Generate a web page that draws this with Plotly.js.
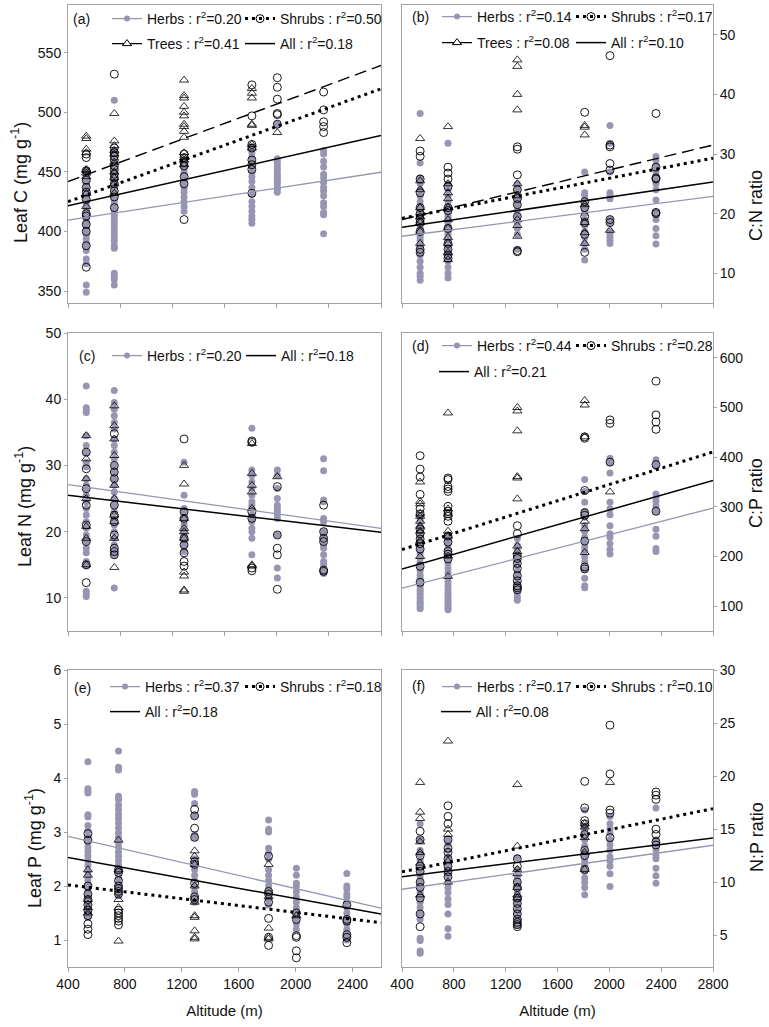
<!DOCTYPE html>
<html><head><meta charset="utf-8">
<script src="https://cdn.plot.ly/plotly-3.0.1.min.js"></script>
<style>html,body{margin:0;padding:0;background:#fff}#chart{width:769px;height:1027px}</style>
</head><body><div id="chart"></div>
<script>
// ---------------- DATA ----------------
const altitudes = [540, 755, 1290, 1810, 2005, 2360];

// (a) Leaf C (mg g-1)
const leafC_herbs = [
  [349, 355, 373, 377, 384, 388, 391, 394, 397, 399, 401, 403, 406, 408, 410, 412, 414, 417, 419, 421, 424, 426, 429, 431, 434, 437, 440, 443, 447, 451],
  [355, 360, 362, 365, 386, 388, 392, 395, 398, 401, 404, 407, 410, 413, 416, 419, 422, 425, 428, 431, 434, 437, 440, 443, 446, 449, 452, 456, 460, 464, 468, 510],
  [417, 421, 425, 429, 433, 436, 440, 443, 447, 450, 453, 456, 460],
  [407, 410, 413, 417, 421, 425, 431, 437, 442, 446, 450, 454, 458, 462, 466, 471],
  [433, 435, 437, 440, 442, 444, 446, 448, 451, 453, 456, 459, 461, 490],
  [398, 414, 416, 421, 424, 430, 434, 437, 441, 445, 448, 454, 459, 465, 468]
];
const leafC_shrubs = [
  [370, 388, 400, 406, 413, 415, 427, 433, 437, 443, 451, 462, 465],
  [420, 429, 434, 440, 445, 448, 452, 455, 460, 463, 466, 470, 532],
  [410, 440, 446, 455, 458, 462, 465],
  [432, 452, 456, 460, 470, 473, 497, 523],
  [490, 498, 499, 511, 521, 529],
  [483, 488, 492, 502, 517]
];
const leafC_trees = [
  [421, 432, 446, 449, 451, 452, 466, 469, 478, 480],
  [432, 440, 445, 450, 458, 465, 468, 472, 476, 499],
  [456, 460, 462, 466, 479, 484, 488, 490, 497, 500, 505, 512, 514, 527],
  [470, 473, 489, 490, 512, 516, 520],
  [483],
  []
];
const leafC_fitHerbs = [409.6, 449.7];
const leafC_fitShrubs = [425, 519.7];
const leafC_fitTrees = [441.9, 539.3];
const leafC_fitAll = [421.6, 480.6];
const leafC_r2 = ['0.20', '0.50', '0.41', '0.18'];

// (b) C:N ratio
const cn_herbs = [
  [8.8, 9.5, 10, 11, 12, 13, 13.5, 14, 14.5, 15, 15.5, 16, 16.5, 17, 17.5, 18, 18.5, 19, 19.5, 20, 21, 22, 23, 24, 25, 26, 28.5, 36.8],
  [9.2, 10, 11, 12, 13, 14, 14.5, 15, 15.5, 16, 16.5, 17, 17.5, 18, 18.5, 19, 19.5, 20, 20.5, 21, 22, 23, 24, 25, 31.8],
  [14, 16.5, 17.5, 18.5, 19.5, 20.5, 21.5, 22, 22.5, 23, 23.5, 24, 25],
  [12.2, 14, 15, 16, 17, 18, 18.5, 19, 20, 20.5, 21, 22, 23, 23.5, 27],
  [15, 15.5, 16, 16.5, 17, 18.5, 19, 22.5, 23, 23.5, 27, 31.8, 34.8],
  [14.9, 16.3, 17.5, 19, 20, 22.3, 24, 25, 26, 27, 28, 29, 29.6]
];
const cn_shrubs = [
  [13.5, 14, 17, 18.5, 19, 20, 21, 23.5, 25.8, 29.6, 30.5],
  [12.5, 13, 14, 15, 17.5, 20.5, 21, 24.5, 25.8, 26.8, 27.8],
  [13.6, 13.8, 19.5, 21.5, 22.5, 24, 26.5, 30.8, 31.2],
  [13.5, 16.5, 18.5, 19.5, 21, 22, 37],
  [18.5, 19, 27.3, 28.4, 31.2, 31.5, 46.5],
  [20, 20.2, 25.8, 26, 27.8, 36.8]
];
const cn_trees = [
  [15, 17, 18.5, 19.5, 21, 24, 25.5, 32.6],
  [12.3, 13.5, 15, 16, 17.6, 19, 21, 22.5, 23.5, 25, 34.6],
  [16.2, 18, 19, 23, 25, 37.4, 40, 44.7, 45.8],
  [15, 16.8, 18.5, 21.5, 33.2, 34.5, 34.8],
  [17.2],
  []
];
const cn_fitHerbs = [16.2, 22.9];
const cn_fitShrubs = [19.2, 29.3];
const cn_fitTrees = [19.0, 31.5];
const cn_fitAll = [17.7, 25.3];
const cn_r2 = ['0.14', '0.17', '0.08', '0.10'];

// (c) Leaf N (mg g-1)
const leafN_herbs = [
  [10.2, 10.5, 11, 14.8, 15.5, 16.8, 17.5, 18.5, 19.5, 20.5, 21.5, 22.5, 23.5, 24.5, 25.5, 26.5, 27, 28, 29.8, 30.5, 32, 33, 34.5, 38, 38.3, 38.7, 42],
  [11.5, 16.5, 17, 18, 19, 20, 21, 22, 23, 24, 25, 26, 27, 28, 29, 30, 31, 32, 33, 34, 35.5, 36.5, 37.5, 38.5, 39.5, 41.3],
  [17, 18, 18.5, 19, 19.5, 20, 20.5, 21, 21.5, 22, 23, 23.5, 25.5, 30.5],
  [16.5, 19, 20, 20.5, 21.5, 22, 22.5, 23.5, 24, 24.5, 25.5, 26.5, 27.5, 28.5, 29.3, 35.6],
  [13, 14.5, 19.5, 22, 22.5, 23, 23.5, 24, 25, 26.5, 28.5, 29.3],
  [13.7, 14, 15, 15.5, 16.5, 17.5, 18, 19, 20, 21.5, 22, 24.5, 24.8, 29.2, 31]
];
const leafN_shrubs = [
  [12.3, 15, 18.5, 21, 24, 26.5, 29.5, 32],
  [16.5, 17, 17.5, 19.5, 21.5, 22.5, 24, 28, 29, 30, 34.8],
  [14.8, 15.5, 16.8, 18, 19, 22, 23, 34],
  [14.1, 14.5, 22, 23, 33.5, 33.7],
  [11.3, 16.5, 17.5, 19.5, 26.8],
  [14, 14.2, 18.5, 19, 20, 24]
];
const leafN_trees = [
  [15, 19, 20.8, 25, 28, 31, 34.5],
  [14.6, 19, 21.5, 22.5, 25, 27, 31.5, 34, 36, 39],
  [11, 11.2, 13.3, 13.9, 19, 20, 20.5, 22, 27.2, 30],
  [14.8, 15, 23.5, 26, 27, 28.8, 33.3],
  [28.3],
  []
];
const leafN_fitHerbs = [27.1, 20.5];
const leafN_fitAll = [25.5, 19.9];
const leafN_r2 = ['0.20', '0.18'];

// (d) C:P ratio
const cp_herbs = [
  [95, 99, 104, 108, 113, 118, 124, 129, 133, 139, 144, 151, 156, 162, 171, 179, 188, 197, 206, 214, 223, 233, 242, 251, 262, 273, 281],
  [93, 97, 101, 106, 111, 117, 122, 127, 133, 141, 149, 158, 168, 177, 186, 196, 204, 213, 224, 233, 244],
  [112, 118, 126, 134, 146, 158, 169, 181, 190, 201, 212, 222, 236],
  [137, 141, 156, 174, 189, 199, 211, 219, 231, 239, 251, 262, 279, 291, 309, 331, 355],
  [205, 214, 226, 239, 246, 262, 284, 296, 309, 368, 389, 398],
  [210, 216, 241, 255, 291, 301, 311, 319, 326, 381, 386, 395]
];
const cp_shrubs = [
  [148, 180, 215, 226, 235, 246, 255, 286, 296, 325, 360, 376, 403],
  [195, 205, 211, 229, 241, 271, 281, 286, 291, 301, 331, 336, 341, 355, 358],
  [133, 137, 141, 151, 161, 176, 186, 196, 201, 246, 262],
  [175, 179, 231, 283, 288, 333, 438, 441],
  [390, 468, 475],
  [291, 385, 456, 471, 485, 553]
];
const cp_trees = [
  [200, 231, 251, 261, 271, 281, 286, 306, 311, 350],
  [160, 201, 241, 251, 286, 296, 489],
  [210, 221, 316, 358, 361, 453, 493, 500],
  [208, 256, 271, 441, 505, 514],
  [330],
  []
];
const cp_fitHerbs = [136.3, 297.6];
const cp_fitShrubs = [214, 410.5];
const cp_fitAll = [175, 353];
const cp_r2 = ['0.44', '0.28', '0.21'];

// (e) Leaf P (mg g-1)
const leafP_herbs = [
  [1.42, 1.51, 1.58, 1.67, 1.76, 1.84, 1.93, 2.02, 2.11, 2.19, 2.27, 2.38, 2.47, 2.56, 2.64, 2.72, 2.83, 2.91, 3.02, 3.12, 3.28, 3.32, 3.72, 3.76, 3.8, 4.3],
  [1.82, 1.9, 1.98, 2.06, 2.14, 2.22, 2.3, 2.39, 2.47, 2.55, 2.63, 2.72, 2.81, 2.9, 2.98, 3.07, 3.16, 3.25, 3.33, 3.42, 3.5, 3.6, 3.66, 4.15, 4.2, 4.5],
  [1.7, 1.8, 1.9, 2.0, 2.1, 2.2, 2.3, 2.4, 2.45, 2.5, 2.9, 2.95, 3.3, 3.53, 3.7, 3.75],
  [1.65, 1.75, 1.81, 1.9, 2.0, 2.1, 2.2, 2.3, 2.5, 2.6, 2.7, 3.0, 3.05, 3.22],
  [1.2, 1.3, 1.4, 1.5, 1.6, 1.7, 1.8, 1.9, 2.0, 2.05, 2.2, 2.33],
  [1.0, 1.1, 1.2, 1.3, 1.4, 1.5, 1.6, 1.7, 1.8, 1.85, 1.95, 2.0, 2.23]
];
const leafP_shrubs = [
  [1.1, 1.2, 1.3, 1.45, 1.55, 1.65, 1.75, 1.85, 2.0, 2.85, 2.97],
  [1.28, 1.35, 1.4, 1.45, 1.5, 1.55, 1.85, 1.9, 1.95, 2.0, 2.1, 2.25, 2.3],
  [1.75, 1.8, 2.05, 2.4, 2.45, 2.9, 3.07, 3.3, 3.42],
  [0.9, 1.05, 1.4, 1.7, 1.85, 1.9, 2.55],
  [0.67, 0.8, 1.05, 1.08, 1.38, 1.5],
  [0.95, 1.05, 1.1, 1.35, 1.38, 1.65]
];
const leafP_trees = [
  [1.5, 1.6, 1.75, 2.2, 2.3],
  [0.98, 1.6, 1.75, 2.3, 2.85],
  [1.02, 1.05, 1.17, 1.42, 1.45, 1.7, 2.0, 2.4, 2.55, 2.65],
  [1.02, 1.05, 1.22, 1.8, 2.4],
  [1.45],
  []
];
const leafP_fitHerbs = [2.92, 1.59];
const leafP_fitShrubs = [2.02, 1.32];
const leafP_fitAll = [2.53, 1.48];
const leafP_r2 = ['0.37', '0.18', '0.18'];

// (f) N:P ratio
const np_herbs = [
  [3.3, 3.5, 4.5, 4.7, 6.5, 7, 7.6, 8.1, 8.5, 9, 9.4, 10, 10.5, 11, 11.4, 12, 12.6, 13, 14, 15.5],
  [4.9, 5.6, 7, 7.9, 8.4, 9, 9.5, 10, 10.6, 11, 11.5, 12, 12.4, 13, 13.6, 14],
  [5.9, 6.0, 6.2, 6.5, 7, 7.4, 8, 8.5, 9, 9.6, 10, 10.5, 11.2, 12.3],
  [8.8, 9.5, 10, 10.4, 11, 11.6, 12, 12.5, 13, 13.4, 14, 14.6, 15, 15.3, 16.8],
  [9.6, 10.8, 11.5, 12, 12.4, 13, 13.5, 14, 14.6, 15, 15.5, 16.2],
  [9.9, 10.6, 11.3, 12.2, 12.5, 13, 13.5, 14, 17]
];
const np_shrubs = [
  [5.8, 7, 8.5, 9.5, 10, 11, 11.5, 12.5, 14, 14.8],
  [10.5, 11, 11.5, 12.2, 12.8, 13.2, 14, 15.5, 16.2, 17.2],
  [5.8, 6, 6.2, 6.5, 7, 7.5, 8, 8.5, 9.5, 10, 11.5, 12.2],
  [11.2, 12.5, 13, 14.5, 15.5, 15.8, 17, 19.5],
  [14.2, 16.5, 16.8, 20.2, 24.8],
  [13.5, 13.8, 14.5, 15, 17.8, 18.2, 18.5]
];
const np_trees = [
  [8.8, 11.8, 12.8, 13.8, 16, 16.6, 19.4],
  [10, 12, 14.5, 15, 23.3],
  [8.5, 8.8, 9.5, 10.8, 11.2, 13.4, 19.2],
  [11.2, 12.8, 14.2, 15.2, 15.5],
  [19.4],
  []
];
const np_fitHerbs = [9.33, 13.48];
const np_fitShrubs = [10.97, 16.93];
const np_fitAll = [10.5, 14.17];
const np_r2 = ['0.17', '0.10', '0.08'];

const fitX = [400, 2800];
const fitX_e = [400, 2600];

// ---------------- STYLE / LAYOUT ----------------
const W = 769, H = 1027;
const FONT = "Arial, 'Liberation Sans', sans-serif";
const HERB = '#9696b2';
const FRAME = '#a3a3a3';
const TXT = '#111';
const px = v => v / W;
const py = v => 1 - v / H;

function toXY(groups) {
  const x = [], y = [];
  groups.forEach((g, i) => g.forEach(v => { x.push(altitudes[i]); y.push(v); }));
  return {x, y};
}

const traces = [];
const layout = {
  width: W, height: H,
  margin: {l: 0, r: 0, t: 0, b: 0},
  paper_bgcolor: '#fff', plot_bgcolor: '#fff',
  showlegend: true, hovermode: false,
  font: {family: FONT, size: 14, color: TXT},
  annotations: []
};

const fitStyles = {
  herbs: {mode: 'lines+markers', line: {color: HERB, width: 1.3},
          marker: {symbol: 'circle', size: 6, color: HERB}},
  shrubs: {mode: 'lines+markers', line: {color: '#000', width: 3, dash: '3px,4px'},
           marker: {symbol: 'circle-open', size: 8, color: '#000', line: {width: 1, color: '#000'}}},
  trees: {mode: 'lines+markers', line: {color: '#000', width: 1.4, dash: '12px,6px'},
          marker: {symbol: 'triangle-up-open', size: 8, color: '#000', line: {width: 1, color: '#000'}}},
  all: {mode: 'lines', line: {color: '#000', width: 1.5}}
};
const kindName = {herbs: 'Herbs', shrubs: 'Shrubs', trees: 'Trees', all: 'All'};

let legendCount = 0;
function addFit(xa, ya, kind, fx, fy, r2, L, yc) {
  legendCount++;
  const lid = legendCount === 1 ? 'legend' : 'legend' + legendCount;
  const st = fitStyles[kind];
  const t = Object.assign({
    type: 'scatter', x: fx, y: fy, xaxis: xa, yaxis: ya,
    name: kindName[kind] + ' : r<sup>2</sup>=' + r2,
    legend: lid, showlegend: true, hoverinfo: 'skip', cliponaxis: true
  }, JSON.parse(JSON.stringify(st)));
  if (st.mode.indexOf('markers') >= 0) {
    t.selectedpoints = [];
    t.unselected = {marker: {opacity: 0}};
  }
  traces.push(t);
  layout[lid] = {
    x: px(L), y: py(yc), xanchor: 'left', yanchor: 'middle',
    orientation: 'v', bgcolor: 'rgba(0,0,0,0)', borderwidth: 0,
    itemwidth: 30, tracegroupgap: 0, itemclick: false, itemdoubleclick: false,
    font: {family: FONT, size: 14, color: TXT}
  };
}

function addPoints(xa, ya, herbs, shrubs, trees) {
  const h = toXY(herbs), s = toXY(shrubs), t = toXY(trees);
  traces.push({type: 'scatter', mode: 'markers', x: h.x, y: h.y, xaxis: xa, yaxis: ya, showlegend: false,
    hoverinfo: 'skip', marker: {symbol: 'circle', size: 7, color: HERB}});
  traces.push({type: 'scatter', mode: 'markers', x: s.x, y: s.y, xaxis: xa, yaxis: ya, showlegend: false,
    hoverinfo: 'skip', marker: {symbol: 'circle-open', size: 8, color: '#000', line: {width: 0.9, color: '#000'}}});
  traces.push({type: 'scatter', mode: 'markers', x: t.x, y: t.y, xaxis: xa, yaxis: ya, showlegend: false,
    hoverinfo: 'skip', marker: {symbol: 'triangle-up-open', size: 8, color: '#000', line: {width: 0.8, color: '#000'}}});
}

const xL = [px(68), px(381)], xR = [px(402), px(713)];
const row1 = [py(303), py(5)], row2 = [py(631), py(333)], row3 = [py(967), py(670)];

function xaxis(domain, anchor, range, labels) {
  const a = {
    domain, anchor, range, tick0: 400, dtick: 400, ticks: 'outside', ticklen: 4, tickcolor: FRAME, tickwidth: 1,
    showline: true, mirror: true, linecolor: FRAME, linewidth: 1, showgrid: false, zeroline: false,
    showticklabels: labels, tickfont: {family: FONT, size: 14, color: TXT}, fixedrange: true
  };
  if (labels) a.title = {text: 'Altitude (m)', font: {family: FONT, size: 15, color: TXT}, standoff: 14};
  return a;
}
function yaxis(domain, anchor, range, tick0, dtick, side) {
  return {
    domain, anchor, range, tick0, dtick, side, ticks: 'outside', ticklen: 3, tickcolor: FRAME, tickwidth: 1,
    showline: true, mirror: true, linecolor: FRAME, linewidth: 1, showgrid: false, zeroline: false,
    tickfont: {family: FONT, size: 14, color: TXT}, fixedrange: true
  };
}

layout.xaxis = xaxis(xL, 'y', [400, 2800], false);
layout.yaxis = yaxis(row1, 'x', [340, 590], 350, 50, 'left');
layout.xaxis2 = xaxis(xR, 'y2', [400, 2800], false);
layout.yaxis2 = yaxis(row1, 'x2', [5, 55], 10, 10, 'right');
layout.xaxis3 = xaxis(xL, 'y3', [400, 2800], false);
layout.yaxis3 = yaxis(row2, 'x3', [5, 50], 10, 10, 'left');
layout.xaxis4 = xaxis(xR, 'y4', [400, 2800], false);
layout.yaxis4 = yaxis(row2, 'x4', [50, 650], 100, 100, 'right');
layout.xaxis5 = xaxis(xL, 'y5', [400, 2600], true);
layout.yaxis5 = yaxis(row3, 'x5', [0.5, 6], 1, 1, 'left');
layout.xaxis6 = xaxis(xR, 'y6', [400, 2800], true);
layout.yaxis6 = yaxis(row3, 'x6', [2, 30], 5, 5, 'right');

// y-axis titles (placed where the reference shows them)
const yTitles = [
  ['Leaf C (mg g<sup>-1</sup>)', 19, 183],
  ['C:N ratio', 756, 206],
  ['Leaf N (mg g<sup>-1</sup>)', 24, 507],
  ['C:P ratio', 756, 493],
  ['Leaf P (mg g<sup>-1</sup>)', 33, 848],
  ['N:P ratio', 757, 837]
];
yTitles.forEach(([t, x, y]) => layout.annotations.push({
  text: t, xref: 'paper', yref: 'paper', x: px(x), y: py(y), xanchor: 'center', yanchor: 'middle',
  textangle: -90, showarrow: false, font: {family: FONT, size: 18, color: TXT}
}));

// points
addPoints('x', 'y', leafC_herbs, leafC_shrubs, leafC_trees);
addPoints('x2', 'y2', cn_herbs, cn_shrubs, cn_trees);
addPoints('x3', 'y3', leafN_herbs, leafN_shrubs, leafN_trees);
addPoints('x4', 'y4', cp_herbs, cp_shrubs, cp_trees);
addPoints('x5', 'y5', leafP_herbs, leafP_shrubs, leafP_trees);
addPoints('x6', 'y6', np_herbs, np_shrubs, np_trees);

// fit lines + legends (positions in px)
addFit('x', 'y', 'herbs', fitX, leafC_fitHerbs, leafC_r2[0], 107, 19);
addFit('x', 'y', 'shrubs', fitX, leafC_fitShrubs, leafC_r2[1], 240, 19);
addFit('x', 'y', 'trees', fitX, leafC_fitTrees, leafC_r2[2], 107, 44);
addFit('x', 'y', 'all', fitX, leafC_fitAll, leafC_r2[3], 240, 44);

addFit('x2', 'y2', 'herbs', fitX, cn_fitHerbs, cn_r2[0], 437, 17);
addFit('x2', 'y2', 'shrubs', fitX, cn_fitShrubs, cn_r2[1], 571, 17);
addFit('x2', 'y2', 'trees', fitX, cn_fitTrees, cn_r2[2], 437, 43);
addFit('x2', 'y2', 'all', fitX, cn_fitAll, cn_r2[3], 571, 43);

addFit('x3', 'y3', 'herbs', fitX, leafN_fitHerbs, leafN_r2[0], 107, 356);
addFit('x3', 'y3', 'all', fitX, leafN_fitAll, leafN_r2[1], 241, 356);

addFit('x4', 'y4', 'herbs', fitX, cp_fitHerbs, cp_r2[0], 437, 346);
addFit('x4', 'y4', 'shrubs', fitX, cp_fitShrubs, cp_r2[1], 571, 346);
addFit('x4', 'y4', 'all', fitX, cp_fitAll, cp_r2[2], 434, 372);

addFit('x5', 'y5', 'herbs', fitX_e, leafP_fitHerbs, leafP_r2[0], 105, 687);
addFit('x5', 'y5', 'shrubs', fitX_e, leafP_fitShrubs, leafP_r2[1], 240, 687);
addFit('x5', 'y5', 'all', fitX_e, leafP_fitAll, leafP_r2[2], 105, 712);

addFit('x6', 'y6', 'herbs', fitX, np_fitHerbs, np_r2[0], 437, 687);
addFit('x6', 'y6', 'shrubs', fitX, np_fitShrubs, np_r2[1], 571, 687);
addFit('x6', 'y6', 'all', fitX, np_fitAll, np_r2[2], 436, 712);

// panel labels
const panelLabels = [['(a)', 81, 19], ['(b)', 420, 17], ['(c)', 87, 356], ['(d)', 420, 346], ['(e)', 82, 688], ['(f)', 418, 686]];
panelLabels.forEach(([t, x, y]) => layout.annotations.push({
  text: t, xref: 'paper', yref: 'paper', x: px(x), y: py(y), xanchor: 'center', yanchor: 'middle',
  showarrow: false, font: {family: FONT, size: 14, color: TXT}
}));

Plotly.newPlot('chart', traces, layout, {staticPlot: false, displayModeBar: false, responsive: false});
</script>
</body></html>
